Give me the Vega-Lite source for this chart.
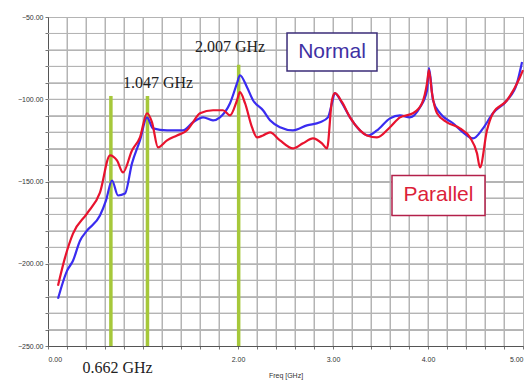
{
  "$schema": "https://vega.github.io/schema/vega-lite/v6.json",
  "width": 475,
  "height": 329,
  "autosize": "none",
  "padding": {"left": 48, "top": 17, "right": 4, "bottom": 34},
  "background": "white",
  "config": {
    "view": {"stroke": "#666", "strokeWidth": 1},
    "axis": {"labelFont": "Liberation Sans", "labelFontSize": 7, "labelColor": "#333", "domainColor": "#555", "tickColor": "#777", "tickSize": 3, "titleFont": "Liberation Sans", "titleFontSize": 7, "titleFontWeight": "normal", "titleColor": "#333"}
  },
  "datasets": {
    "gx": [
      {"f": 0.2, "v": -250, "v2": -50}, {"f": 0.4, "v": -250, "v2": -50}, {"f": 0.6, "v": -250, "v2": -50}, {"f": 0.8, "v": -250, "v2": -50},
      {"f": 1.0, "v": -250, "v2": -50}, {"f": 1.2, "v": -250, "v2": -50}, {"f": 1.4, "v": -250, "v2": -50}, {"f": 1.6, "v": -250, "v2": -50},
      {"f": 1.8, "v": -250, "v2": -50}, {"f": 2.0, "v": -250, "v2": -50}, {"f": 2.2, "v": -250, "v2": -50}, {"f": 2.4, "v": -250, "v2": -50},
      {"f": 2.6, "v": -250, "v2": -50}, {"f": 2.8, "v": -250, "v2": -50}, {"f": 3.0, "v": -250, "v2": -50}, {"f": 3.2, "v": -250, "v2": -50},
      {"f": 3.4, "v": -250, "v2": -50}, {"f": 3.6, "v": -250, "v2": -50}, {"f": 3.8, "v": -250, "v2": -50}, {"f": 4.0, "v": -250, "v2": -50},
      {"f": 4.2, "v": -250, "v2": -50}, {"f": 4.4, "v": -250, "v2": -50}, {"f": 4.6, "v": -250, "v2": -50}, {"f": 4.8, "v": -250, "v2": -50}
    ],
    "gy": [
      {"v": -240, "f": 0, "f2": 5}, {"v": -230, "f": 0, "f2": 5}, {"v": -220, "f": 0, "f2": 5}, {"v": -210, "f": 0, "f2": 5},
      {"v": -200, "f": 0, "f2": 5}, {"v": -190, "f": 0, "f2": 5}, {"v": -180, "f": 0, "f2": 5}, {"v": -170, "f": 0, "f2": 5},
      {"v": -160, "f": 0, "f2": 5}, {"v": -150, "f": 0, "f2": 5}, {"v": -140, "f": 0, "f2": 5}, {"v": -130, "f": 0, "f2": 5},
      {"v": -120, "f": 0, "f2": 5}, {"v": -110, "f": 0, "f2": 5}, {"v": -100, "f": 0, "f2": 5}, {"v": -90, "f": 0, "f2": 5},
      {"v": -80, "f": 0, "f2": 5}, {"v": -70, "f": 0, "f2": 5}, {"v": -60, "f": 0, "f2": 5}
    ],
    "curves": [
      {"f": 0.105, "v": -221.3, "s": "Normal"},
      {"f": 0.2, "v": -204.3, "s": "Normal"},
      {"f": 0.263, "v": -198.2, "s": "Normal"},
      {"f": 0.337, "v": -186, "s": "Normal"},
      {"f": 0.41, "v": -179.9, "s": "Normal"},
      {"f": 0.547, "v": -170.7, "s": "Normal"},
      {"f": 0.61, "v": -161.6, "s": "Normal"},
      {"f": 0.674, "v": -149.4, "s": "Normal"},
      {"f": 0.737, "v": -158.5, "s": "Normal"},
      {"f": 0.81, "v": -157.3, "s": "Normal"},
      {"f": 0.884, "v": -139, "s": "Normal"},
      {"f": 0.968, "v": -125, "s": "Normal"},
      {"f": 1.042, "v": -111, "s": "Normal"},
      {"f": 1.105, "v": -117.7, "s": "Normal"},
      {"f": 1.253, "v": -118.9, "s": "Normal"},
      {"f": 1.42, "v": -118.9, "s": "Normal"},
      {"f": 1.526, "v": -114, "s": "Normal"},
      {"f": 1.632, "v": -111, "s": "Normal"},
      {"f": 1.737, "v": -112.8, "s": "Normal"},
      {"f": 1.81, "v": -111, "s": "Normal"},
      {"f": 1.916, "v": -102.4, "s": "Normal"},
      {"f": 1.99, "v": -90.2, "s": "Normal"},
      {"f": 2.02, "v": -85.4, "s": "Normal"},
      {"f": 2.095, "v": -92.7, "s": "Normal"},
      {"f": 2.158, "v": -100.6, "s": "Normal"},
      {"f": 2.263, "v": -106.7, "s": "Normal"},
      {"f": 2.337, "v": -112.8, "s": "Normal"},
      {"f": 2.442, "v": -117, "s": "Normal"},
      {"f": 2.579, "v": -118.9, "s": "Normal"},
      {"f": 2.726, "v": -115.9, "s": "Normal"},
      {"f": 2.863, "v": -114, "s": "Normal"},
      {"f": 2.947, "v": -111, "s": "Normal"},
      {"f": 2.989, "v": -102.4, "s": "Normal"},
      {"f": 3.02, "v": -96.3, "s": "Normal"},
      {"f": 3.095, "v": -102.4, "s": "Normal"},
      {"f": 3.179, "v": -111, "s": "Normal"},
      {"f": 3.284, "v": -118.9, "s": "Normal"},
      {"f": 3.368, "v": -122, "s": "Normal"},
      {"f": 3.463, "v": -118.9, "s": "Normal"},
      {"f": 3.6, "v": -111.6, "s": "Normal"},
      {"f": 3.705, "v": -109.8, "s": "Normal"},
      {"f": 3.81, "v": -111, "s": "Normal"},
      {"f": 3.916, "v": -104.9, "s": "Normal"},
      {"f": 3.99, "v": -94.5, "s": "Normal"},
      {"f": 4.01, "v": -81.1, "s": "Normal"},
      {"f": 4.053, "v": -100.6, "s": "Normal"},
      {"f": 4.126, "v": -108.5, "s": "Normal"},
      {"f": 4.263, "v": -114.6, "s": "Normal"},
      {"f": 4.368, "v": -120.1, "s": "Normal"},
      {"f": 4.474, "v": -123.8, "s": "Normal"},
      {"f": 4.579, "v": -117.7, "s": "Normal"},
      {"f": 4.684, "v": -108.5, "s": "Normal"},
      {"f": 4.832, "v": -100.6, "s": "Normal"},
      {"f": 4.937, "v": -90.2, "s": "Normal"},
      {"f": 4.99, "v": -77.4, "s": "Normal"},
      {"f": 0.105, "v": -213.4, "s": "Parallel"},
      {"f": 0.179, "v": -196.3, "s": "Parallel"},
      {"f": 0.263, "v": -181.7, "s": "Parallel"},
      {"f": 0.41, "v": -169.5, "s": "Parallel"},
      {"f": 0.547, "v": -156.7, "s": "Parallel"},
      {"f": 0.653, "v": -134.1, "s": "Parallel"},
      {"f": 0.726, "v": -137.2, "s": "Parallel"},
      {"f": 0.79, "v": -144.5, "s": "Parallel"},
      {"f": 0.884, "v": -131.1, "s": "Parallel"},
      {"f": 0.968, "v": -123.2, "s": "Parallel"},
      {"f": 1.042, "v": -108.5, "s": "Parallel"},
      {"f": 1.095, "v": -114, "s": "Parallel"},
      {"f": 1.158, "v": -129.3, "s": "Parallel"},
      {"f": 1.253, "v": -125, "s": "Parallel"},
      {"f": 1.358, "v": -122, "s": "Parallel"},
      {"f": 1.463, "v": -118.9, "s": "Parallel"},
      {"f": 1.526, "v": -114, "s": "Parallel"},
      {"f": 1.6, "v": -108.5, "s": "Parallel"},
      {"f": 1.737, "v": -106.7, "s": "Parallel"},
      {"f": 1.842, "v": -106.7, "s": "Parallel"},
      {"f": 1.916, "v": -109.8, "s": "Parallel"},
      {"f": 1.99, "v": -100.6, "s": "Parallel"},
      {"f": 2.02, "v": -95.7, "s": "Parallel"},
      {"f": 2.074, "v": -102.4, "s": "Parallel"},
      {"f": 2.147, "v": -117, "s": "Parallel"},
      {"f": 2.2, "v": -123.2, "s": "Parallel"},
      {"f": 2.263, "v": -122, "s": "Parallel"},
      {"f": 2.337, "v": -120.1, "s": "Parallel"},
      {"f": 2.442, "v": -125, "s": "Parallel"},
      {"f": 2.579, "v": -129.9, "s": "Parallel"},
      {"f": 2.684, "v": -126.8, "s": "Parallel"},
      {"f": 2.789, "v": -123.8, "s": "Parallel"},
      {"f": 2.884, "v": -126.8, "s": "Parallel"},
      {"f": 2.937, "v": -129.9, "s": "Parallel"},
      {"f": 2.989, "v": -100.6, "s": "Parallel"},
      {"f": 3.02, "v": -96.3, "s": "Parallel"},
      {"f": 3.095, "v": -101.8, "s": "Parallel"},
      {"f": 3.179, "v": -111, "s": "Parallel"},
      {"f": 3.284, "v": -118.9, "s": "Parallel"},
      {"f": 3.358, "v": -122, "s": "Parallel"},
      {"f": 3.463, "v": -123.2, "s": "Parallel"},
      {"f": 3.6, "v": -117, "s": "Parallel"},
      {"f": 3.705, "v": -111, "s": "Parallel"},
      {"f": 3.842, "v": -108.5, "s": "Parallel"},
      {"f": 3.937, "v": -102.4, "s": "Parallel"},
      {"f": 3.99, "v": -90.2, "s": "Parallel"},
      {"f": 4.01, "v": -82.3, "s": "Parallel"},
      {"f": 4.042, "v": -96.3, "s": "Parallel"},
      {"f": 4.095, "v": -108.5, "s": "Parallel"},
      {"f": 4.2, "v": -114, "s": "Parallel"},
      {"f": 4.337, "v": -117.7, "s": "Parallel"},
      {"f": 4.442, "v": -123.2, "s": "Parallel"},
      {"f": 4.516, "v": -132.9, "s": "Parallel"},
      {"f": 4.547, "v": -141.5, "s": "Parallel"},
      {"f": 4.621, "v": -118.9, "s": "Parallel"},
      {"f": 4.684, "v": -108.5, "s": "Parallel"},
      {"f": 4.832, "v": -100.6, "s": "Parallel"},
      {"f": 4.968, "v": -86.6, "s": "Parallel"},
      {"f": 5.0, "v": -82.3, "s": "Parallel"}
    ],
    "markers": [
      {"f": 0.662, "v": -98, "v2": -250},
      {"f": 1.047, "v": -98, "v2": -250},
      {"f": 2.007, "v": -79, "v2": -250}
    ],
    "labels": [
      {"f": 1.916, "v": -68.3, "t": "2.007 GHz"},
      {"f": 1.158, "v": -90.2, "t": "1.047 GHz"},
      {"f": 0.732, "v": -263.4, "t": "0.662 GHz"}
    ],
    "boxes": [
      {"f": 2.516, "f2": 3.463, "v": -59.8, "v2": -82.9, "t": "Normal"},
      {"f": 3.621, "f2": 4.6, "v": -146.3, "v2": -170.7, "t": "Parallel"}
    ],
    "boxtext": [
      {"f": 2.99, "v": -71.3, "t": "Normal"},
      {"f": 4.11, "v": -158.5, "t": "Parallel"}
    ]
  },
  "encoding": {
    "x": {"field": "f", "type": "quantitative", "scale": {"domain": [0, 5], "nice": false},
      "axis": {"grid": true, "gridColor": "#b4b4b4", "labelOverlap": false, "title": "Freq [GHz]", "titlePadding": 9, "values": [0,0.2,0.4,0.6,0.8,1,1.2,1.4,1.6,1.8,2,2.2,2.4,2.6,2.8,3,3.2,3.4,3.6,3.8,4,4.2,4.4,4.6,4.8,5],
        "labelExpr": "(abs(datum.value - round(datum.value)) < 0.001 && abs(datum.value - 1) > 0.001) ? format(datum.value, '.2f') : ''", "labelPadding": 6}},
    "y": {"field": "v", "type": "quantitative", "scale": {"domain": [-250, -50], "nice": false},
      "axis": {"grid": true, "gridColor": "#b4b4b4", "labelOverlap": false, "title": null, "values": [-250,-240,-230,-220,-210,-200,-190,-180,-170,-160,-150,-140,-130,-120,-110,-100,-90,-80,-70,-60,-50],
        "labelExpr": "(abs(datum.value) % 50 == 0) ? format(datum.value, '.2f') : ''"}}
  },
  "layer": [
    {
      "data": {"name": "gx"},
      "mark": {"type": "rule", "color": "#b4b4b4", "strokeWidth": 1},
      "encoding": {"y2": {"field": "v2"}}
    },
    {
      "data": {"name": "gy"},
      "mark": {"type": "rule", "color": "#b4b4b4", "strokeWidth": 1},
      "encoding": {"x2": {"field": "f2"}}
    },
    {
      "data": {"name": "markers"},
      "mark": {"type": "rule", "color": "#a6c83a", "strokeWidth": 3.5},
      "encoding": {
        "y2": {"field": "v2"}
      }
    },
    {
      "data": {"name": "curves"},
      "mark": {"type": "line", "strokeWidth": 2.2, "interpolate": "monotone"},
      "encoding": {
        "color": {"field": "s", "type": "nominal", "scale": {"domain": ["Normal", "Parallel"], "range": ["#3a2cf0", "#e8132e"]}, "legend": null}
      }
    },
    {
      "data": {"name": "labels"},
      "mark": {"type": "text", "font": "Liberation Serif", "fontSize": 16, "color": "#222"},
      "encoding": {
        "text": {"field": "t"}
      }
    },
    {
      "data": {"name": "boxes"},
      "mark": {"type": "rect", "fill": "white", "strokeWidth": 1.5},
      "encoding": {
        "x2": {"field": "f2"},
        "y2": {"field": "v2"},
        "stroke": {"field": "t", "type": "nominal", "scale": {"domain": ["Normal", "Parallel"], "range": ["#3b2d78", "#b3204a"]}, "legend": null}
      }
    },
    {
      "data": {"name": "boxtext"},
      "mark": {"type": "text", "font": "Liberation Sans", "fontSize": 21},
      "encoding": {
        "text": {"field": "t"},
        "fill": {"field": "t", "type": "nominal", "scale": {"domain": ["Normal", "Parallel"], "range": ["#3f31a3", "#dc1f3a"]}, "legend": null}
      }
    }
  ]
}
